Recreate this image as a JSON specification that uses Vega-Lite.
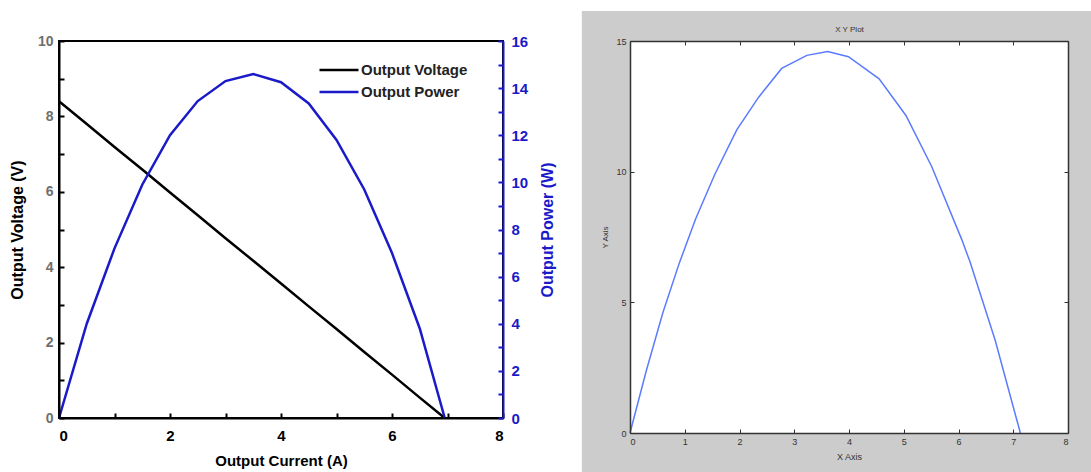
{
  "$schema": "https://vega.github.io/schema/vega-lite/v6.json",
  "background": "white",
  "padding": {"left": 8, "top": 9, "right": 0, "bottom": 0},
  "spacing": 23,
  "config": {
    "font": "Liberation Sans",
    "view": {"stroke": "black", "strokeWidth": 2}
  },
  "datasets": {
    "cell": [
      {"I": 0.0, "V": 8.40, "P": 0.0},
      {"I": 0.5, "V": 7.80, "P": 4.0},
      {"I": 1.0, "V": 7.19, "P": 7.2},
      {"I": 1.5, "V": 6.59, "P": 9.9},
      {"I": 2.0, "V": 5.98, "P": 12.0},
      {"I": 2.5, "V": 5.38, "P": 13.45},
      {"I": 3.0, "V": 4.77, "P": 14.3},
      {"I": 3.5, "V": 4.17, "P": 14.6},
      {"I": 4.0, "V": 3.57, "P": 14.25},
      {"I": 4.5, "V": 2.96, "P": 13.35},
      {"I": 5.0, "V": 2.36, "P": 11.8},
      {"I": 5.5, "V": 1.75, "P": 9.7},
      {"I": 6.0, "V": 1.15, "P": 7.0},
      {"I": 6.5, "V": 0.54, "P": 3.8},
      {"I": 6.95, "V": 0.0, "P": 0.0}
    ],
    "xy": [
      {"x": 0.0, "y": 0.0},
      {"x": 0.3, "y": 2.4},
      {"x": 0.6, "y": 4.6},
      {"x": 0.9, "y": 6.5},
      {"x": 1.2, "y": 8.2},
      {"x": 1.55, "y": 9.9},
      {"x": 1.95, "y": 11.6},
      {"x": 2.35, "y": 12.85},
      {"x": 2.77, "y": 13.95},
      {"x": 3.23, "y": 14.45},
      {"x": 3.61, "y": 14.6},
      {"x": 3.99, "y": 14.4},
      {"x": 4.55, "y": 13.55},
      {"x": 5.04, "y": 12.15},
      {"x": 5.51, "y": 10.2},
      {"x": 6.06, "y": 7.4},
      {"x": 6.21, "y": 6.55},
      {"x": 6.67, "y": 3.55},
      {"x": 7.13, "y": 0.0}
    ],
    "frame": [{"panel": "XY"}]
  },
  "hconcat": [
    {
      "width": 444,
      "height": 377,
      "data": {"name": "cell"},
      "encoding": {
        "x": {
          "field": "I",
          "type": "quantitative",
          "scale": {"domain": [0, 8], "nice": false, "zero": false},
          "axis": {
            "title": "Output Current (A)",
            "values": [0, 1, 2, 3, 4, 5, 6, 7, 8],
            "labelExpr": "datum.value % 2 == 0 ? datum.label : ''",
            "grid": false,
            "domainColor": "black",
            "domainWidth": 2,
            "tickColor": "black",
            "tickWidth": 2,
            "tickSize": -5,
            "labelPadding": 15,
            "labelFont": "Liberation Sans",
            "labelFontWeight": "bold",
            "labelFontSize": 15,
            "labelColor": "black",
            "titleFont": "Liberation Sans",
            "titleFontWeight": "bold",
            "titleFontSize": 15,
            "titleColor": "black",
            "titlePadding": 10,
            "zindex": 1
          }
        }
      },
      "layer": [
        {
          "mark": {"type": "line", "strokeWidth": 2.5},
          "encoding": {
            "y": {
              "field": "V",
              "type": "quantitative",
              "scale": {"domain": [0, 10], "nice": false},
              "axis": {
                "orient": "left",
                "title": "Output Voltage (V)",
                "values": [0, 1, 2, 3, 4, 5, 6, 7, 8, 9, 10],
                "labelExpr": "datum.value % 2 == 0 ? datum.label : ''",
                "grid": false,
                "domainColor": "black",
                "domainWidth": 2,
                "tickColor": "black",
                "tickWidth": 2,
                "tickSize": -5,
                "labelPadding": 11,
                "labelFont": "Liberation Sans",
                "labelFontWeight": "bold",
                "labelFontSize": 14,
                "labelColor": "#6e6e6e",
                "titleFont": "Liberation Sans",
                "titleFontWeight": "bold",
                "titleFontSize": 16,
                "titleColor": "black",
                "titlePadding": 12,
                "zindex": 1
              }
            },
            "color": {
              "datum": "Output Voltage",
              "type": "nominal",
              "scale": {"domain": ["Output Voltage", "Output Power"], "range": ["#000000", "#1a1ac8"]},
              "legend": {
                "title": null,
                "orient": "none",
                "legendX": 269,
                "legendY": 18,
                "padding": 0,
                "symbolType": "M-2,0H2",
                "symbolSize": 380,
                "symbolStrokeWidth": 2.5,
                "labelOffset": 11,
                "labelFont": "Liberation Sans",
                "labelFontWeight": "bold",
                "labelFontSize": 15,
                "labelColor": "#222222",
                "rowPadding": 3
              }
            }
          }
        },
        {
          "mark": {"type": "line", "strokeWidth": 2.5},
          "encoding": {
            "y": {
              "field": "P",
              "type": "quantitative",
              "scale": {"domain": [0, 16], "nice": false},
              "axis": {
                "orient": "right",
                "title": "Output Power (W)",
                "titleAngle": -90,
                "titleBaseline": "top",
                "values": [0, 1, 2, 3, 4, 5, 6, 7, 8, 9, 10, 11, 12, 13, 14, 15, 16],
                "labelExpr": "datum.value % 2 == 0 ? datum.label : ''",
                "grid": false,
                "domainColor": "#1a1ac8",
                "domainWidth": 2,
                "tickColor": "#1a1ac8",
                "tickWidth": 2,
                "tickSize": -5,
                "labelPadding": 13,
                "labelFont": "Liberation Sans",
                "labelFontWeight": "bold",
                "labelFontSize": 15,
                "labelColor": "#1a1ac8",
                "titleFont": "Liberation Sans",
                "titleFontWeight": "bold",
                "titleFontSize": 16,
                "titleColor": "#1a1ac8",
                "titlePadding": 12,
                "zindex": 1
              }
            },
            "color": {"datum": "Output Power", "type": "nominal"}
          }
        }
      ],
      "resolve": {"scale": {"y": "independent"}, "axis": {"y": "independent"}}
    },
    {
      "width": 438,
      "height": 392,
      "layer": [
        {
          "data": {"name": "frame"},
          "mark": {"type": "rect", "color": "#cccccc", "clip": false},
          "encoding": {
            "x": {
              "datum": -0.88,
              "type": "quantitative",
              "scale": {"domain": [0, 8], "nice": false, "zero": false},
              "axis": {
                "orient": "bottom",
                "title": "X Axis",
                "values": [0, 1, 2, 3, 4, 5, 6, 7, 8],
                "grid": false,
                "domainColor": "#333333",
                "domainWidth": 1.5,
                "tickColor": "#333333",
                "tickSize": -4,
                "labelPadding": 8,
                "labelFontSize": 9,
                "labelColor": "#333333",
                "titleFontSize": 9,
                "titleFontWeight": "normal",
                "titleColor": "#333333",
                "titlePadding": 6,
                "zindex": 1
              }
            },
            "x2": {"datum": 8.42},
            "y": {
              "datum": -1.5,
              "type": "quantitative",
              "scale": {"domain": [0, 15], "nice": false, "zero": false},
              "axis": {
                "orient": "left",
                "title": "Y Axis",
                "values": [0, 5, 10, 15],
                "grid": false,
                "domainColor": "#333333",
                "domainWidth": 1.5,
                "tickColor": "#333333",
                "tickSize": -4,
                "labelPadding": 8,
                "labelFontSize": 9,
                "labelColor": "#333333",
                "titleFontSize": 8,
                "titleFontWeight": "normal",
                "titleColor": "#333333",
                "titlePadding": 6,
                "zindex": 1
              }
            },
            "y2": {"datum": 16.15}
          }
        },
        {
          "data": {"name": "frame"},
          "mark": {"type": "rect", "color": "white"},
          "encoding": {
            "x": {
              "datum": 0,
              "type": "quantitative",
              "axis": {
                "orient": "top",
                "title": "X Y Plot",
                "titleFontSize": 8,
                "titleFontWeight": "normal",
                "titleColor": "#333333",
                "titlePadding": 7,
                "labels": false,
                "values": [0, 1, 2, 3, 4, 5, 6, 7, 8],
                "grid": false,
                "domainColor": "#333333",
                "domainWidth": 1.5,
                "tickColor": "#333333",
                "tickSize": -4,
                "zindex": 1
              }
            },
            "x2": {"datum": 8},
            "y": {
              "datum": 0,
              "type": "quantitative",
              "axis": {
                "orient": "right",
                "title": null,
                "labels": false,
                "values": [0, 5, 10, 15],
                "grid": false,
                "domainColor": "#333333",
                "domainWidth": 1.5,
                "tickColor": "#333333",
                "tickSize": -4,
                "zindex": 1
              }
            },
            "y2": {"datum": 15}
          }
        },
        {
          "data": {"name": "xy"},
          "mark": {"type": "line", "color": "#5b7bff", "strokeWidth": 1.5},
          "encoding": {
            "x": {"field": "x", "type": "quantitative", "axis": null},
            "y": {"field": "y", "type": "quantitative", "axis": null}
          }
        }
      ],
      "resolve": {"axis": {"x": "independent", "y": "independent"}}
    }
  ]
}
